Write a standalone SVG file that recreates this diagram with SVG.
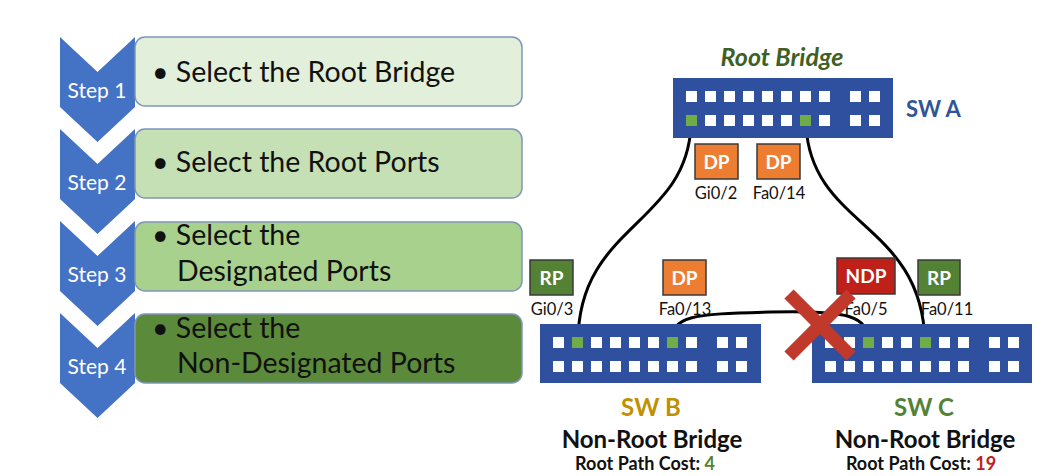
<svg xmlns="http://www.w3.org/2000/svg" width="1046" height="476" viewBox="0 0 1046 476">
<style>
text{font-family:Lato,"Open Sans","Liberation Sans",sans-serif}
.chev{fill:#4472c4}
.box{stroke:#7f96b8;stroke-width:1.5}
.step{fill:#fff;font-size:21px;text-anchor:middle}
.bt{fill:#111;font-size:28.5px}
.sw{fill:#2f4f9f}
.pw{fill:#fff}
.pg{fill:#70ad47}
.tag{stroke:#3a3a3a;stroke-width:1.5}
.tagt{fill:#fff;font-size:19px;font-weight:700;text-anchor:middle}
.pl{fill:#111;font-size:16.5px;text-anchor:middle}
.link{fill:none;stroke:#000;stroke-width:3}
.nm{font-size:24px;font-weight:700;text-anchor:middle}
.cost{fill:#111;font-size:18px;font-weight:700;text-anchor:middle}
</style>
<defs>
<g id="ports">
<rect class="pw" x="13" y="13" width="11" height="11"/><rect class="pw" x="32" y="13" width="11" height="11"/><rect class="pw" x="51" y="13" width="11" height="11"/><rect class="pw" x="70" y="13" width="11" height="11"/><rect class="pw" x="89" y="13" width="11" height="11"/><rect class="pw" x="108" y="13" width="11" height="11"/><rect class="pw" x="127" y="13" width="11" height="11"/><rect class="pw" x="146" y="13" width="11" height="11"/><rect class="pw" x="177" y="13" width="11" height="11"/><rect class="pw" x="196" y="13" width="11" height="11"/>
<rect class="pw" x="13" y="37" width="11" height="11"/><rect class="pw" x="32" y="37" width="11" height="11"/><rect class="pw" x="51" y="37" width="11" height="11"/><rect class="pw" x="70" y="37" width="11" height="11"/><rect class="pw" x="89" y="37" width="11" height="11"/><rect class="pw" x="108" y="37" width="11" height="11"/><rect class="pw" x="127" y="37" width="11" height="11"/><rect class="pw" x="146" y="37" width="11" height="11"/><rect class="pw" x="177" y="37" width="11" height="11"/><rect class="pw" x="196" y="37" width="11" height="11"/>
</g>
</defs>
<rect width="1046" height="476" fill="#fff"/>

<g id="step1">
<path class="chev" d="M60,37 L97.5,72 L135,37 L135,107 L97.5,142 L60,107 Z"/>
<rect class="box" x="135" y="37" width="387" height="69" rx="10" fill="#e2efda"/>
<text class="step" x="97" y="98">Step 1</text>
<text class="bt" x="152" y="82">• Select the Root Bridge</text>
</g>
<g id="step2">
<path class="chev" d="M60,129 L97.5,164 L135,129 L135,199 L97.5,234 L60,199 Z"/>
<rect class="box" x="135" y="129" width="387" height="69" rx="10" fill="#c5e0b4"/>
<text class="step" x="97" y="190">Step 2</text>
<text class="bt" x="152" y="172">• Select the Root Ports</text>
</g>
<g id="step3">
<path class="chev" d="M60,221 L97.5,256 L135,221 L135,291 L97.5,326 L60,291 Z"/>
<rect class="box" x="135" y="222" width="387" height="69" rx="10" fill="#a9d18e"/>
<text class="step" x="97" y="282">Step 3</text>
<text class="bt" x="152" y="245">• Select the</text>
<text class="bt" x="177" y="281">Designated Ports</text>
</g>
<g id="step4">
<path class="chev" d="M60,313 L97.5,348 L135,313 L135,383 L97.5,418 L60,383 Z"/>
<rect class="box" x="135" y="314" width="387" height="69" rx="10" fill="#5b8a3a"/>
<text class="step" x="97" y="374">Step 4</text>
<text class="bt" x="152" y="338">• Select the</text>
<text class="bt" x="177" y="373">Non-Designated Ports</text>
</g>

<g id="connectors">
<path class="link" d="M691,126 C686,225 578,225 578,342"/>
<path class="link" d="M806,126 C812,228 922,222 925,342"/>
<path class="link" d="M672,342 C672,316 690,314 770,312 C850,310 868,316 868,342"/>
</g>

<g id="swA">
<text x="782" y="66" font-size="25" font-weight="700" font-style="italic" fill="#3f5f24" text-anchor="middle">Root Bridge</text>
<rect class="sw" x="673" y="78" width="220" height="60"/>
<use href="#ports" x="673" y="78"/>
<rect class="pg" x="686" y="115" width="11" height="11"/>
<rect class="pg" x="800" y="115" width="11" height="11"/>
<text x="906" y="117" font-size="22" font-weight="700" fill="#2f5597">SW A</text>
<rect class="tag" x="695" y="144" width="43" height="35" fill="#ed7d31"/>
<text class="tagt" x="716.5" y="168.5">DP</text>
<rect class="tag" x="757" y="144" width="43" height="35" fill="#ed7d31"/>
<text class="tagt" x="778.5" y="168.5">DP</text>
<text class="pl" x="716" y="199">Gi0/2</text>
<text class="pl" x="779" y="199">Fa0/14</text>
</g>

<g id="swB">
<rect class="sw" x="540" y="324" width="221" height="59"/>
<use href="#ports" x="540" y="324"/>
<rect class="pg" x="572" y="337" width="11" height="11"/>
<rect class="pg" x="667" y="337" width="11" height="11"/>
<rect class="tag" x="530" y="260" width="43" height="35" fill="#548235"/>
<text class="tagt" x="551.5" y="284.5">RP</text>
<rect class="tag" x="663" y="260" width="43" height="35" fill="#ed7d31"/>
<text class="tagt" x="684.5" y="284.5">DP</text>
<text class="pl" x="552" y="315">Gi0/3</text>
<text class="pl" x="685" y="315">Fa0/13</text>
<text class="nm" x="651" y="416" fill="#bf9000">SW B</text>
<text class="nm" x="652" y="448" fill="#111">Non-Root Bridge</text>
<text class="cost" x="645" y="470">Root Path Cost: <tspan fill="#548235">4</tspan></text>
</g>

<g id="swC">
<rect class="sw" x="812" y="324" width="220" height="59"/>
<use href="#ports" x="812" y="324"/>
<rect class="pg" x="863" y="337" width="11" height="11"/>
<rect class="pg" x="920" y="337" width="11" height="11"/>
<rect class="tag" x="837" y="258" width="58" height="36" fill="#c0201a"/>
<text class="tagt" x="866" y="283">NDP</text>
<rect class="tag" x="918" y="260" width="42" height="35" fill="#548235"/>
<text class="tagt" x="939" y="284.5">RP</text>
<text class="pl" x="866" y="315">Fa0/5</text>
<text class="pl" x="947" y="315">Fa0/11</text>
<text class="nm" x="924" y="416" fill="#548235">SW C</text>
<text class="nm" x="925" y="448" fill="#111">Non-Root Bridge</text>
<text class="cost" x="921" y="470">Root Path Cost: <tspan fill="#c0201a">19</tspan></text>
</g>

<g id="blocked" stroke="#c0392b" stroke-width="13">
<line x1="789" y1="294" x2="851" y2="356"/>
<line x1="851" y1="294" x2="789" y2="356"/>
</g>
</svg>
